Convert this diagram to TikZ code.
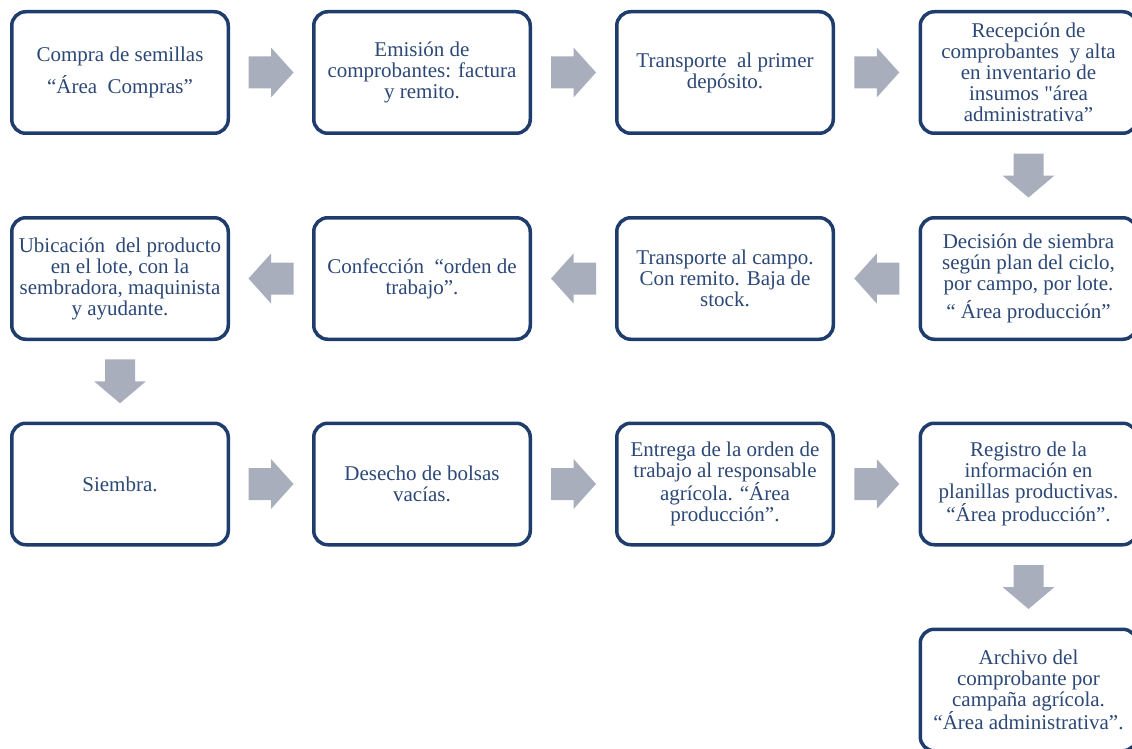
\documentclass[tikz,border=0pt]{standalone}
\usepackage{fontspec}
\setmainfont{Liberation Serif}[Ligatures=TeXOff]
\usetikzlibrary{calc}
\definecolor{boxline}{HTML}{1F3D6C}
\definecolor{boxtext}{HTML}{2C4876}
\definecolor{arrowgray}{HTML}{A9AEBD}
\tikzset{
  stepbox/.style={draw=boxline, line width=3.5pt, rounded corners=14pt, fill=white,
    minimum width=216.5pt, minimum height=121.5pt, inner sep=0pt, align=center,
    text=boxtext, font=\fontsize{21}{21}\selectfont},
  rarrow/.pic={\fill[arrowgray] (-22.5,-16)--(0,-16)--(0,-25)--(22.5,0)--(0,25)--(0,16)--(-22.5,16)--cycle;},
  larrow/.pic={\fill[arrowgray] (22.5,-16)--(0,-16)--(0,-25)--(-22.5,0)--(0,25)--(0,16)--(22.5,16)--cycle;},
  darrow/.pic={\fill[arrowgray] (-15,-22)--(-15,0)--(-26,0)--(0,22)--(26,0)--(15,0)--(15,-22)--cycle;}
}
\begin{document}
\begin{tikzpicture}[x=1pt,y=-1pt]
\useasboundingbox (0,0) rectangle (1132,749);
\clip (0,0) rectangle (1132,749);

% row 1
\node[stepbox] (b1) at (120,72.5) {Compra de semillas\\[9pt]“Área\ \ Compras”};
\node[stepbox] (b2) at (422,72.5) {Emisión de\\comprobantes: factura\\y remito.};
\node[stepbox] (b3) at (725,72.5) {Transporte\ \ al primer\\depósito.};
\node[stepbox] (b4) at (1028.5,72.5) {Recepción de\\comprobantes\ \ y alta\\en inventario de\\insumos "área\\administrativa”};

% row 2
\node[stepbox] (b5) at (1028.5,278.5) {Decisión de siembra\\según plan del ciclo,\\por campo, por lote.\\[4pt]“ Área producción”};
\node[stepbox] (b6) at (725,278.5) {Transporte al campo.\\Con remito. Baja de\\stock.};
\node[stepbox] (b7) at (422,278.5) {Confección\ \ “orden de\\trabajo”.};
\node[stepbox] (b8) at (120,278.5) {Ubicación\ \ del producto\\en el lote, con la\\sembradora, maquinista\\y ayudante.};

% row 3
\node[stepbox] (b9) at (120,484) {Siembra.};
\node[stepbox] (b10) at (422,484) {Desecho de bolsas\\vacías.};
\node[stepbox] (b11) at (725,484) {Entrega de la orden de\\trabajo al responsable\\agrícola. “Área\\producción”.};
\node[stepbox] (b12) at (1028.5,484) {Registro de la\\información en\\planillas productivas.\\“Área producción”.};

% row 4
\node[stepbox] (b13) at (1028.5,690) {Archivo del\\comprobante por\\campaña agrícola.\\“Área administrativa”.};

% block arrows between the steps
\pic at ($(b1)!0.5!(b2)$) {rarrow};
\pic at ($(b2)!0.5!(b3)$) {rarrow};
\pic at ($(b3)!0.5!(b4)$) {rarrow};
\pic at ($(b4)!0.5!(b5)$) {darrow};
\pic at ($(b5)!0.5!(b6)$) {larrow};
\pic at ($(b6)!0.5!(b7)$) {larrow};
\pic at ($(b7)!0.5!(b8)$) {larrow};
\pic at ($(b8)!0.5!(b9)$) {darrow};
\pic at ($(b9)!0.5!(b10)$) {rarrow};
\pic at ($(b10)!0.5!(b11)$) {rarrow};
\pic at ($(b11)!0.5!(b12)$) {rarrow};
\pic at ($(b12)!0.5!(b13)$) {darrow};
\end{tikzpicture}
\end{document}
